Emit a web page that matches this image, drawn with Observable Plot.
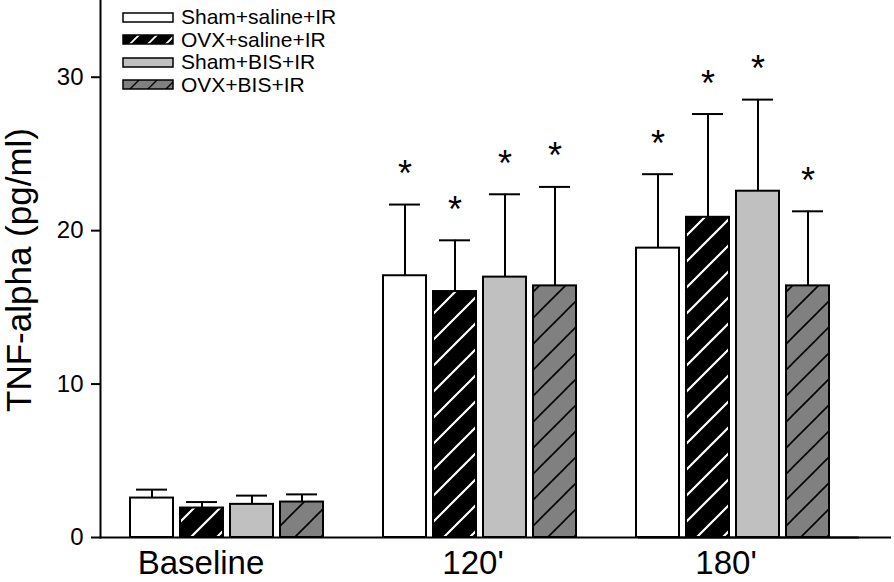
<!DOCTYPE html>
<html>
<head>
<meta charset="utf-8">
<script src="https://cdn.jsdelivr.net/npm/d3@7"></script>
<script src="https://cdn.jsdelivr.net/npm/@observablehq/plot@0.6"></script>
<style>
  html, body { margin: 0; padding: 0; background: white; }
  #wrap { position: relative; width: 894px; height: 582px; font-family: "Liberation Sans", Arial, sans-serif; }
  #ylabel { position: absolute; left: 19px; top: 270px; transform: translate(-50%, -50%) rotate(-90deg); font-size: 35px; white-space: nowrap; color: black; }
  #legend { position: absolute; left: 122px; top: 6px; }
  .row { display: flex; align-items: center; height: 22.5px; }
  .row svg { display: block; margin-right: 7px; }
  .row span { font-size: 21px; color: black; }
</style>
</head>
<body>
<svg width="0" height="0" style="position:absolute">
  <defs>
    <pattern id="hatchBlack" patternUnits="userSpaceOnUse" width="26" height="26">
      <rect width="26" height="26" fill="black"/>
      <path d="M-2,2 L2,-2 M0,26 L26,0 M24,28 L28,24" stroke="white" stroke-width="2.2"/>
    </pattern>
    <pattern id="hatchGray" patternUnits="userSpaceOnUse" width="26" height="26">
      <rect width="26" height="26" fill="#808080"/>
      <path d="M-2,2 L2,-2 M0,26 L26,0 M24,28 L28,24" stroke="black" stroke-width="1.6"/>
    </pattern>
    <pattern id="legBlack" patternUnits="userSpaceOnUse" width="18" height="18">
      <rect width="18" height="18" fill="black"/>
      <path d="M-2,2 L2,-2 M0,18 L18,0 M16,20 L20,16" stroke="white" stroke-width="1.8"/>
    </pattern>
    <pattern id="legGray" patternUnits="userSpaceOnUse" width="18" height="18">
      <rect width="18" height="18" fill="#808080"/>
      <path d="M-2,2 L2,-2 M0,18 L18,0 M16,20 L20,16" stroke="black" stroke-width="1.4"/>
    </pattern>
  </defs>
</svg>
<div id="wrap">
  <div id="chart"></div>
  <div id="ylabel">TNF-alpha (pg/ml)</div>
  <div id="legend"></div>
</div>
<script>
const groups = ["Baseline", "120'", "180'"];
const series = ["Sham+saline+IR", "OVX+saline+IR", "Sham+BIS+IR", "OVX+BIS+IR"];
const fills = ["white", "url(#hatchBlack)", "#c0c0c0", "url(#hatchGray)"];
const legendFills = ["white", "url(#legBlack)", "#c0c0c0", "url(#legGray)"];
const yTicks = [0, 10, 20, 30];

const meanBaseline = [2.57, 1.92, 2.16, 2.31];
const mean120 = [17.06, 16.03, 16.97, 16.40];
const mean180 = [18.86, 20.87, 22.57, 16.40];

const errBaseline = [0.55, 0.39, 0.57, 0.50];
const err120 = [4.64, 3.34, 5.40, 6.45];
const err180 = [4.82, 6.73, 5.97, 4.86];

const signifBaseline = [false, false, false, false];
const signif120 = [true, true, true, true];
const signif180 = [true, true, true, true];

const means = [meanBaseline, mean120, mean180];
const errs = [errBaseline, err120, err180];
const signifs = [signifBaseline, signif120, signif180];

const data = [];
groups.forEach((g, gi) => series.forEach((s, si) => {
  data.push({group: g, series: s, value: means[gi][si], err: errs[gi][si], top: means[gi][si] + errs[gi][si], sig: signifs[gi][si]});
}));

const chart = Plot.plot({
  width: 894,
  height: 582,
  marginLeft: 100,
  marginRight: 0,
  marginTop: 0,
  marginBottom: 45,
  style: {fontFamily: "'Liberation Sans', Arial, sans-serif", fontSize: "24px", color: "black", background: "white", overflow: "visible"},
  fx: {domain: groups, paddingInner: 0, paddingOuter: 0.063, align: 0, label: null},
  x: {domain: series, paddingInner: 0.137, paddingOuter: 0.56, axis: null},
  y: {domain: [0, 35], label: null},
  color: {domain: series, range: fills},
  marks: [
    Plot.ruleX(data, {fx: "group", x: "series", y1: "value", y2: "top", stroke: "black", strokeWidth: 2}),
    Plot.tickY(data, {fx: "group", x: "series", y: "top", stroke: "black", strokeWidth: 2, insetLeft: 6, insetRight: 6}),
    Plot.barY(data, {fx: "group", x: "series", y: "value", fill: "series", stroke: "black", strokeWidth: 2}),
    Plot.text(data.filter(d => d.sig), {fx: "group", x: "series", y: "top", text: () => "*", fontSize: 36, dy: -30, fill: "black"}),
    Plot.ruleY([0], {stroke: "black", strokeWidth: 2}),
    Plot.ruleY([{group: groups[2], v: 0}], {fx: "group", y: "v", dx: 32, stroke: "black", strokeWidth: 2}),
    Plot.frame({anchor: "left", facetAnchor: "left", stroke: "black", strokeWidth: 2}),
    Plot.axisY({ticks: yTicks, tickSize: 9, tickPadding: 8, fontSize: 24, strokeWidth: 2, label: null}),
    Plot.axisFx({anchor: "bottom", ticks: groups.slice(0, 1), tickSize: 0, tickPadding: 13, fontSize: 33, dx: -26, label: null}),
    Plot.axisFx({anchor: "bottom", ticks: groups.slice(1), tickSize: 0, tickPadding: 13, fontSize: 33, dx: -7, label: null})
  ]
});
document.getElementById("chart").appendChild(chart);

const legend = document.getElementById("legend");
series.forEach((s, i) => {
  const row = document.createElement("div");
  row.className = "row";
  row.innerHTML = `<svg width="52" height="11"><rect x="1" y="1" width="50" height="9" fill="${legendFills[i]}" stroke="black" stroke-width="1.5"/></svg><span>${s}</span>`;
  legend.appendChild(row);
});
</script>
</body>
</html>
